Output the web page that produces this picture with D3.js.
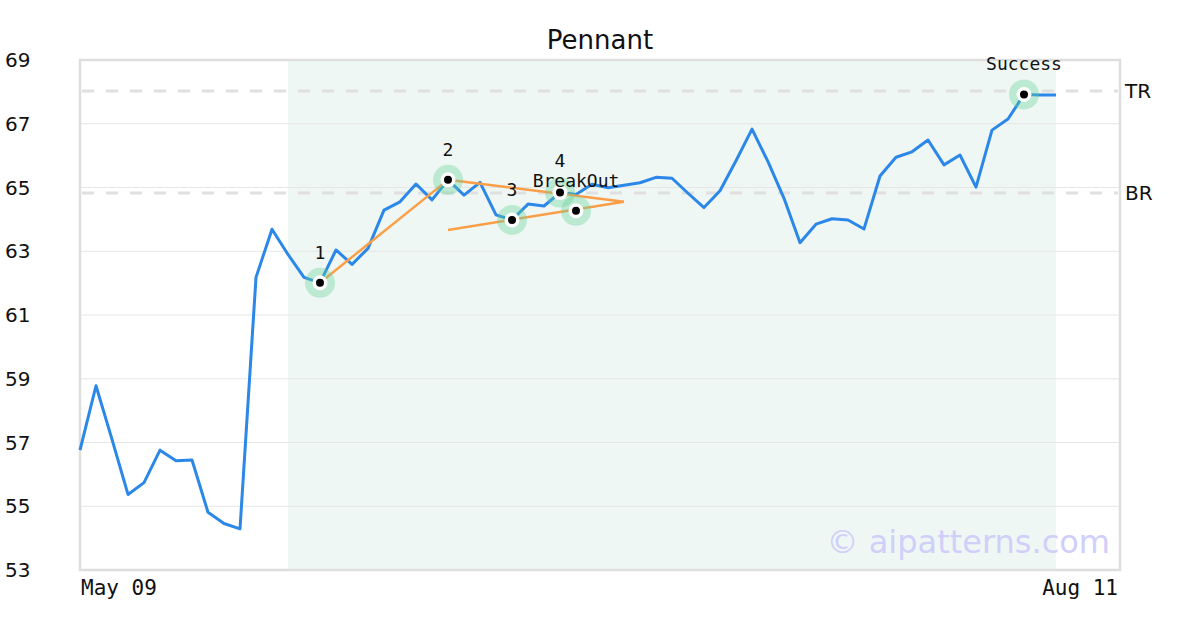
<!DOCTYPE html>
<html><head><meta charset="utf-8">
<script src="https://cdn.jsdelivr.net/npm/d3@7"></script>
<style>html,body{margin:0;padding:0;background:#fff;}svg{display:block;}</style>
</head><body>
<svg id="c" width="1200" height="630"></svg>
<script>
// ---- data ----
const prices = [56.76,58.78,57.1,55.37,55.74,56.76,56.43,56.45,54.81,54.46,54.29,62.18,63.69,62.9,62.18,62.01,63.04,62.59,63.09,64.29,64.55,65.11,64.61,65.24,64.76,65.16,64.14,63.98,64.48,64.42,64.84,64.78,65.10,64.99,65.07,65.15,65.32,65.29,64.82,64.37,64.90,65.84,66.83,65.81,64.66,63.27,63.85,64.02,63.98,63.70,65.36,65.95,66.12,66.49,65.71,66.02,65.01,66.80,67.15,67.92,67.90,67.90];
const xTickLabels = ["May 09","Aug 11"];
const xTickIndex = [0,65];
const yTicks = [53,55,57,59,61,63,65,67,69];
const title = "Pennant";
const levelNames = ["TR","BR"];
const levelValues = [68.03,64.83];
const zoneRange = [13,61];
const pointLabels = ["1","2","3","4","BreakOut","Success"];
const pointIndex = [15,23,27,30,31,59];
const pointValues = [62.01,65.24,63.98,64.84,64.27,67.92];
const trendLines = [
  [[15,62.01],[23,65.24]],
  [[23,65.24],[34,64.55]],
  [[23,63.67],[34,64.55]]
];

// ---- chart ----
const svg = d3.select("#c");
const L=80,R=1120,T=60,B=570;
const x = d3.scaleLinear().domain([0,65]).range([L,R]);
const y = d3.scaleLinear().domain([53,69]).range([B,T]);

// shaded zone
svg.append("rect").attr("x",x(zoneRange[0])).attr("y",T)
  .attr("width",x(zoneRange[1])-x(zoneRange[0])).attr("height",B-T)
  .attr("fill","#eff7f4");

// grid
svg.append("g").selectAll("line").data(yTicks.filter(v=>v>53&&v<69)).join("line")
  .attr("x1",L).attr("x2",R).attr("y1",d=>y(d)).attr("y2",d=>y(d))
  .attr("stroke","#e6e6e6").attr("stroke-width",1);

// level lines
svg.append("g").selectAll("line").data(levelValues).join("line")
  .attr("x1",L+2).attr("x2",R-2).attr("y1",d=>y(d)).attr("y2",d=>y(d))
  .attr("stroke","#e0e0e0").attr("stroke-width",3).attr("stroke-dasharray","12,12");
svg.append("g").selectAll("text").data(levelNames).join("text")
  .attr("x",R+5).attr("y",(d,i)=>y(levelValues[i])).attr("dy","0.36em")
  .attr("font-family","DejaVu Sans").attr("font-size",20).attr("fill","#111").text(d=>d);

// frame
svg.append("rect").attr("x",L).attr("y",T).attr("width",R-L).attr("height",B-T)
  .attr("fill","none").attr("stroke","#dedede").attr("stroke-width",2.5);

// y labels
svg.append("g").selectAll("text").data(yTicks).join("text")
  .attr("x",5).attr("y",d=>y(d)).attr("dy","0.36em")
  .attr("font-family","DejaVu Sans").attr("font-size",20).attr("fill","#111").text(d=>d);

// x labels
svg.append("g").selectAll("text").data(xTickLabels).join("text")
  .attr("x",(d,i)=>x(xTickIndex[i])+(i===0?1:-2)).attr("y",595)
  .attr("text-anchor",(d,i)=>i===0?"start":"end")
  .attr("font-family","DejaVu Sans Mono").attr("font-size",21).attr("fill","#111").text(d=>d);

// title
svg.append("text").attr("x",600).attr("y",49).attr("text-anchor","middle")
  .attr("font-family","DejaVu Sans").attr("font-size",26).attr("fill","#111").text(title);

// watermark
svg.append("text").attr("x",1110).attr("y",553).attr("text-anchor","end")
  .attr("font-family","DejaVu Sans").attr("font-size",32).attr("fill","#cfcffa").text("© aipatterns.com");

// price line
const line = d3.line().x((d,i)=>x(i)).y(d=>y(d));
svg.append("path").datum(prices).attr("d",line).attr("fill","none")
  .attr("stroke","#2b87e8").attr("stroke-width",3).attr("stroke-linejoin","round");

// trend lines
const tl = d3.line().x(d=>x(d[0])).y(d=>y(d[1]));
svg.append("g").selectAll("path").data(trendLines).join("path")
  .attr("d",tl).attr("fill","none").attr("stroke","#fb9e48").attr("stroke-width",2.5);

// markers
const pts = pointIndex.map((d,i)=>({i:d,v:pointValues[i],label:pointLabels[i]}));
const g = svg.append("g");
g.selectAll("circle.h").data(pts).join("circle").attr("class","h")
  .attr("cx",d=>x(d.i)).attr("cy",d=>y(d.v)).attr("r",15).attr("fill","rgba(100,210,150,0.37)");
g.selectAll("circle.w").data(pts).join("circle").attr("class","w")
  .attr("cx",d=>x(d.i)).attr("cy",d=>y(d.v)).attr("r",7.5).attr("fill","#fff");
g.selectAll("circle.b").data(pts).join("circle").attr("class","b")
  .attr("cx",d=>x(d.i)).attr("cy",d=>y(d.v)).attr("r",4).attr("fill","#000");
g.selectAll("text").data(pts).join("text")
  .attr("x",d=>x(d.i)).attr("y",d=>y(d.v)-(d.label==="4"?26:24)).attr("text-anchor","middle")
  .attr("font-family","DejaVu Sans Mono").attr("font-size",18).attr("fill","#111").text(d=>d.label);
</script>
</body></html>
